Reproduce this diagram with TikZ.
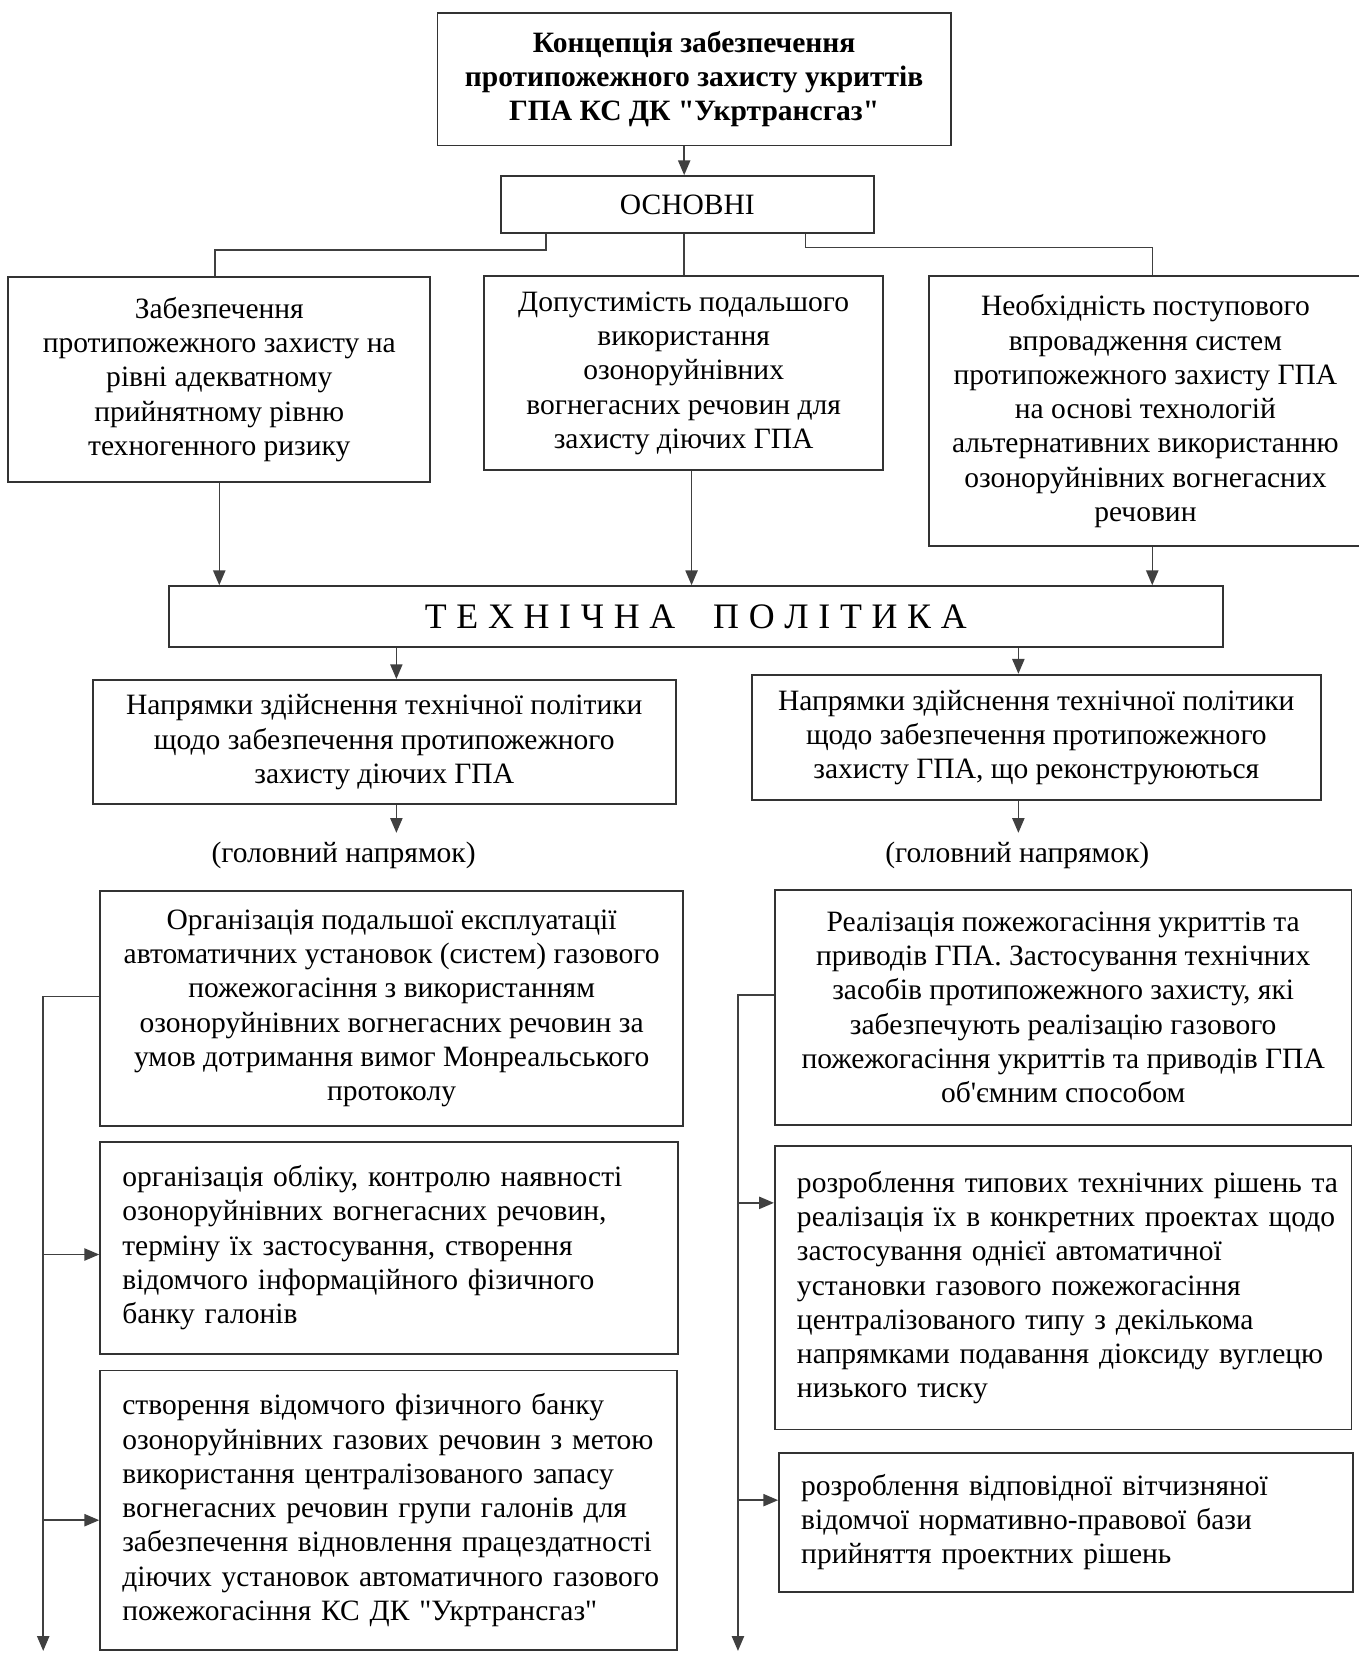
\documentclass[tikz,border=0pt]{standalone}
\usepackage{fontspec}
\setmainfont{Liberation Serif}
\newfontfamily\qfont{Liberation Serif}
\usetikzlibrary{arrows.meta}
\newcommand\dq{{\qfont\char34}}
\newcommand\apos{{\qfont\char39}}
\newcommand\lsp{\hspace{4.6pt}}
\begin{document}
\begin{tikzpicture}[x=0.5pt,y=-0.5pt,
  txt/.style={font=\fontsize{14}{16.25}\selectfont},
  box/.style={txt, draw=black!80, line width=0.9pt, rectangle, inner xsep=2pt, inner ysep=0pt, align=center},
  lbox/.style={txt, draw=black!80, line width=0.9pt, rectangle, inner xsep=10.5pt, inner ysep=0pt, align=left},
  conn/.style={draw=black!75, line width=0.7pt},
  arr/.style={conn, -{Triangle[length=7pt,width=5.8pt]}},
]
\useasboundingbox[fill=white] (0,0) rectangle (1289,1568);

\node[box, font=\fontsize{14}{16.25}\selectfont\bfseries, minimum width=243.5pt, minimum height=63pt] (top) at (658.5,75)
  {Концепція забезпечення\\протипожежного захисту укриттів\\ГПА КС ДК \dq Укртрансгаз\dq};
\node[box, minimum width=177pt, minimum height=27pt] (osn) at (652,194) {ОСНОВНІ};

\node[box, minimum width=200pt, minimum height=97pt] (lb) at (208,360)
  {Забезпечення\\протипожежного захисту на\\рівні адекватному\\прийнятному рівню\\техногенного ризику};
\node[box, minimum width=189.5pt, minimum height=92pt] (mb) at (648.5,354)
  {Допустимість подальшого\\використання\\озоноруйнівних\\вогнегасних речовин для\\захисту діючих ГПА};
\node[box, minimum width=205.5pt, minimum height=128pt] (rb) at (1086.5,390)
  {Необхідність поступового\\впровадження систем\\протипожежного захисту ГПА\\на основі технологій\\альтернативних використанню\\озоноруйнівних вогнегасних\\речовин};

\node[box, minimum width=500pt, minimum height=29pt, font=\fontsize{17}{20}\selectfont] (tp) at (660,585)
  {Т\lsp Е\lsp Х\lsp Н\lsp І\lsp Ч\lsp Н\lsp А\hspace{18pt}П\lsp О\lsp Л\lsp І\lsp Т\lsp И\lsp К\lsp А};

\node[box, minimum width=276.5pt, minimum height=59pt] (n1) at (364.5,704)
  {Напрямки здійснення технічної політики\\щодо забезпечення протипожежного\\захисту діючих ГПА};
\node[box, minimum width=270pt, minimum height=59.5pt] (n2) at (983,699.5)
  {Напрямки здійснення технічної політики\\щодо забезпечення протипожежного\\захисту ГПА, що реконструюються};

\node[txt] (lab1) at (326,811) {(головний напрямок)};
\node[txt] (lab2) at (965,811) {(головний напрямок)};

\node[box, minimum width=276.5pt, minimum height=111.5pt] (o1) at (371.5,956.5)
  {Організація подальшої експлуатації\\автоматичних установок (систем) газового\\пожежогасіння з використанням\\озоноруйнівних вогнегасних речовин за\\умов дотримання вимог Монреальського\\протоколу};
\node[box, minimum width=273.5pt, minimum height=111.5pt] (r1) at (1008.5,955.5)
  {Реалізація пожежогасіння укриттів та\\приводів ГПА. Застосування технічних\\засобів протипожежного захисту, які\\забезпечують реалізацію газового\\пожежогасіння укриттів та приводів ГПА\\об\apos ємним способом};

\node[lbox, text width=253pt, minimum width=274pt, minimum height=100.5pt] (o2) at (369,1183.5)
  {\mbox{організація обліку, контролю наявності}\\\mbox{озоноруйнівних вогнегасних речовин,}\\\mbox{терміну їх застосування, створення}\\\mbox{відомчого інформаційного фізичного}\\\mbox{банку галонів}};
\node[lbox, text width=252.5pt, minimum width=273.5pt, minimum height=132.5pt] (o3) at (368.5,1432.5)
  {\mbox{створення відомчого фізичного банку}\\\mbox{озоноруйнівних газових речовин з метою}\\\mbox{використання централізованого запасу}\\\mbox{вогнегасних речовин групи галонів для}\\\mbox{забезпечення відновлення працездатності}\\\mbox{діючих установок автоматичного газового}\\\mbox{пожежогасіння КС ДК \dq Укртрансгаз\dq}};
\node[lbox, text width=252.5pt, minimum width=273.5pt, minimum height=134.5pt] (r2) at (1008.5,1221.5)
  {\mbox{розроблення типових технічних рішень та}\\\mbox{реалізація їх в конкретних проектах щодо}\\\mbox{застосування однієї автоматичної}\\\mbox{установки газового пожежогасіння}\\\mbox{централізованого типу з декількома}\\\mbox{напрямками подавання діоксиду вуглецю}\\\mbox{низького тиску}};
\node[lbox, text width=251pt, minimum width=272pt, minimum height=66pt] (r3) at (1011,1444)
  {\mbox{розроблення відповідної вітчизняної}\\\mbox{відомчої нормативно-правової бази}\\\mbox{прийняття проектних рішень}};

% coordinates
\coordinate (c0) at (649,150);
\coordinate (k1) at (518,237);
\coordinate (k2) at (204,237);
\coordinate (k3) at (649,240);
\coordinate (k4) at (764,235);
\coordinate (k5) at (1093,235);
\coordinate (c2) at (656,500);
\coordinate (c3) at (1093,530);
\coordinate (ax1) at (376,790);
\coordinate (ax2) at (966,790);
\coordinate (lt) at (41,945);
\coordinate (lbt) at (41,1566);
\coordinate (l2) at (41,1190);
\coordinate (l3) at (41,1442);
\coordinate (rt) at (700,944);
\coordinate (rbt) at (700,1566);
\coordinate (r2a) at (700,1141);
\coordinate (r3a) at (700,1423);

\draw[arr] (top.south -| c0) -- (osn.north -| c0);
\draw[conn] (osn.south -| k1) -- (k1) -- (k2) -- (lb.north -| k2);
\draw[conn] (osn.south -| k3) -- (mb.north -| k3);
\draw[conn] (osn.south -| k4) -- (k4) -- (k5) -- (rb.north -| k5);

\draw[arr] (lb.south) -- (lb.south |- tp.north);
\draw[arr] (mb.south -| c2) -- (tp.north -| c2);
\draw[arr] (rb.south -| c3) -- (tp.north -| c3);

\draw[arr] (tp.south -| ax1) -- (n1.north -| ax1);
\draw[arr] (tp.south -| ax2) -- (n2.north -| ax2);
\draw[arr] (n1.south -| ax1) -- (ax1);
\draw[arr] (n2.south -| ax2) -- (ax2);

\draw[arr] (o1.west |- lt) -- (lt) -- (lbt);
\draw[arr] (l2) -- (o2.west |- l2);
\draw[arr] (l3) -- (o3.west |- l3);
\draw[arr] (r1.west |- rt) -- (rt) -- (rbt);
\draw[arr] (r2a) -- (r2.west |- r2a);
\draw[arr] (r3a) -- (r3.west |- r3a);
\end{tikzpicture}
\end{document}
